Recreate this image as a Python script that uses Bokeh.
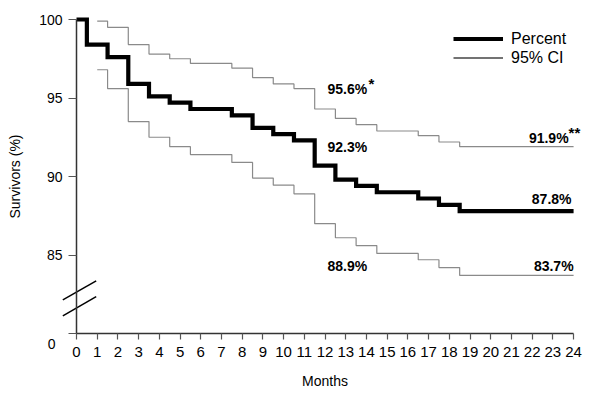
from bokeh.plotting import figure
from bokeh.models import (Range1d, FixedTicker, Legend, LegendItem, Label)
from bokeh.embed import file_html
from bokeh.resources import INLINE

# ---- data ----
months_pct = [0, 0.5, 1.5, 2.5, 3.5, 4.5, 5.5, 7.5, 8.5, 9.5, 10.5, 11.5, 12.5, 13.5, 14.5, 16.5, 17.5, 18.5, 24]
percent = [100, 98.4, 97.6, 95.9, 95.1, 94.7, 94.3, 93.9, 93.1, 92.7, 92.3, 90.7, 89.8, 89.4, 89.0, 88.6, 88.2, 87.8, 87.8]

months_ci = [1, 1.5, 2.5, 3.5, 4.5, 5.5, 7.5, 8.5, 9.5, 10.5, 11.5, 12.5, 13.5, 14.5, 16.5, 17.5, 18.5, 24]
ci_upper = [99.9, 99.5, 98.4, 97.8, 97.5, 97.2, 96.9, 96.3, 95.9, 95.6, 94.3, 93.7, 93.3, 92.9, 92.6, 92.2, 91.9, 91.9]
ci_lower = [96.8, 95.6, 93.5, 92.5, 91.9, 91.4, 90.9, 89.9, 89.45, 88.9, 87.0, 86.1, 85.6, 85.1, 84.7, 84.2, 83.7, 83.7]

x_ticks = list(range(0, 25))
y_ticks = [80, 85, 90, 95, 100]

# annotations: text, x, y, align
ann_text = ["95.6%", "92.3%", "91.9%", "87.8%", "88.9%", "83.7%"]
ann_x = [12.12, 12.12, 23.76, 23.9, 12.12, 24.0]
ann_y = [95.6, 91.9, 92.48, 88.6, 84.33, 84.33]
ann_align = ["left", "left", "right", "right", "left", "right"]
star_text = ["*", "**"]
star_x = [14.1, 23.76]
star_y = [95.6, 92.48]

# axis-break marks
brk_x0 = [-0.66, -0.66]
brk_x1 = [0.95, 0.95]
brk_y0 = [82.14, 81.12]
brk_y1 = [83.36, 82.35]

FONT = "Liberation Sans"

# frame covers the whole canvas; axes are placed at fixed data locations
p = figure(width=600, height=399, output_backend="svg", toolbar_location=None,
           x_range=Range1d(-3.67, 25.30), y_range=Range1d(75.80, 101.21),
           min_border=0)
p.outline_line_color = None
p.grid.visible = False
p.background_fill_color = "white"
p.border_fill_color = "white"

ci_color = "#8a8a8a"
r_up = p.step(months_ci, ci_upper, mode="after", line_color=ci_color, line_width=1.2)
r_lo = p.step(months_ci, ci_lower, mode="after", line_color=ci_color, line_width=1.2)
r_main = p.step(months_pct, percent, mode="after", line_color="black", line_width=4.2, line_join="miter")

# break marks
p.segment(x0=brk_x0, y0=brk_y0, x1=brk_x1, y1=brk_y1, line_color="black", line_width=1.5)

# axes
for ax in (p.xaxis[0], p.yaxis[0]):
    ax.axis_line_color = "#333333"
    ax.axis_line_width = 1.5
    ax.major_tick_line_color = "#555555"
    ax.major_tick_line_width = 1.2
    ax.minor_tick_line_color = None
    ax.major_tick_in = 0
    ax.major_label_text_font = FONT
    ax.major_label_text_font_size = "14px"
    ax.major_label_text_color = "black"
    ax.axis_label_text_font = FONT
    ax.axis_label_text_font_size = "14px"
    ax.axis_label_text_font_style = "normal"
    ax.axis_label_text_color = "black"

p.xaxis.fixed_location = 80
p.xaxis.ticker = FixedTicker(ticks=x_ticks)
p.xaxis.major_tick_out = 6
p.xaxis.major_label_standoff = 7
p.xaxis.major_label_text_font_size = "15px"
p.xaxis.axis_label = "Months"
p.xaxis.axis_label_standoff = 13
p.xaxis.bounds = (0, 24)

p.yaxis.fixed_location = 0
p.yaxis.ticker = FixedTicker(ticks=y_ticks)
p.yaxis.major_label_overrides = {80: ""}
p.yaxis.major_tick_out = 8
p.yaxis.major_label_standoff = 6
p.yaxis.axis_label = "Survivors (%)"
p.yaxis.axis_label_standoff = 13
p.yaxis.bounds = (80, 100)

p.add_layout(Label(x=0, y=80, text="0", x_offset=-21, y_offset=-10, text_align="right",
                   text_baseline="middle", text_font=FONT, text_font_size="14px",
                   text_color="black"))

for t, x, y, a in zip(ann_text, ann_x, ann_y, ann_align):
    p.add_layout(Label(x=x, y=y, text=t, text_align=a, text_baseline="middle",
                       text_font=FONT, text_font_size="14px", text_font_style="bold",
                       text_color="black"))
for t, x, y in zip(star_text, star_x, star_y):
    p.add_layout(Label(x=x, y=y, text=t, text_align="left", text_baseline="middle",
                       y_offset=5, text_color="black",
                       text_font=FONT, text_font_size="15px", text_font_style="bold"))

nan = float("nan")
ci_key = p.line(x=[nan], y=[nan], line_color="#444444", line_width=1.5)
legend = Legend(items=[LegendItem(label="Percent", renderers=[r_main]),
                       LegendItem(label="95% CI", renderers=[ci_key])],
                location=(453, 332), glyph_width=50, glyph_height=19, label_height=19,
                spacing=0, padding=0, margin=0, label_standoff=8,
                border_line_color=None, background_fill_alpha=0,
                label_text_font=FONT, label_text_font_size="16px",
                label_text_color="black")
p.add_layout(legend)

open("out.html", "w").write(file_html(p, INLINE))
